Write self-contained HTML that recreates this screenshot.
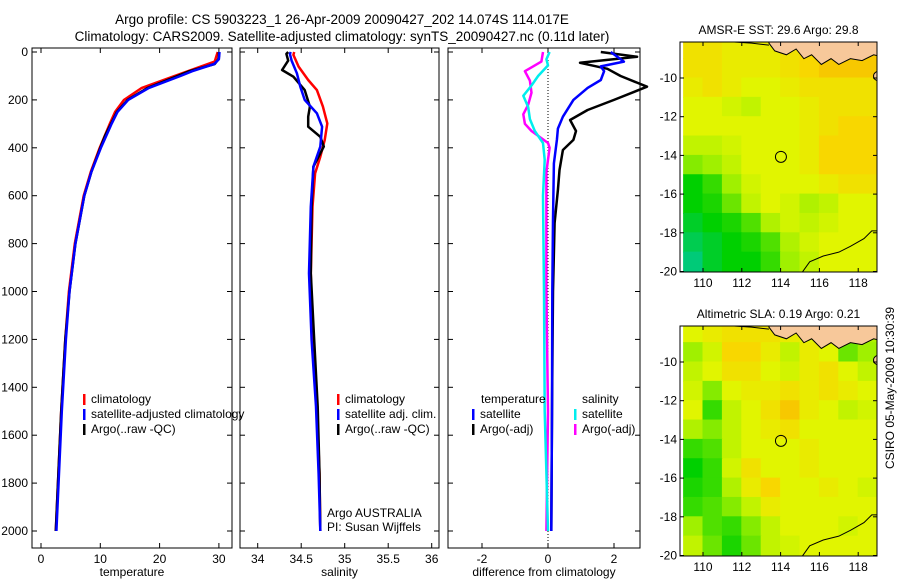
<!DOCTYPE html>
<html><head><meta charset="utf-8">
<style>
body{margin:0;background:#fff;}
svg{display:block;font-family:"Liberation Sans",sans-serif;}
</style></head>
<body>
<svg id="fig" width="900" height="580" viewBox="0 0 900 580" xmlns="http://www.w3.org/2000/svg">
<text x="342" y="24" font-size="13.5" text-anchor="middle">Argo profile: CS 5903223_1 26-Apr-2009 20090427_202 14.074S 114.017E</text>
<text x="342" y="41" font-size="13.5" text-anchor="middle">Climatology: CARS2009. Satellite-adjusted climatology: synTS_20090427.nc (0.11d later)</text>
<text transform="translate(894,469) rotate(-90)" font-size="12">CSIRO 05-May-2009 10:30:39</text>
<g id="p1"></g>
<g id="p2"></g>
<g id="p3"></g>
<g id="m1"></g>
<g id="m2"></g>
</svg>
<script>
// ---- data ----
const depthTicks=[0,200,400,600,800,1000,1200,1400,1600,1800,2000];
const tempTicks=[0,10,20,30];
const salTicks=[34,34.5,35,35.5,36];
const salTickLabels=["34","34.5","35","35.5","36"];
const diffTicks=[-2,0,2];
const climTDepth=[0,40,60,100,150,200,250,300,400,500,600,800,1000,1200,1500,2000];
const climTVal=[29.8,29.3,27,22.5,17,14,12.5,11.6,9.9,8.4,7.2,5.7,4.7,4.1,3.4,2.5];
const satTDepth=[0,30,50,80,100,150,200,250,300,400,500,600,800,1000,1200,1500,2000];
const satTVal=[30.1,30,29.2,25.5,23.5,18.2,14.7,12.9,11.9,10.1,8.5,7.3,5.8,4.8,4.2,3.5,2.6];
const argoTDepth=[0,20,30,50,80,100,150,200,250,300,350,400,500,600,800,1000,1200,1500,2000];
const argoTVal=[30,30,29.9,29.3,25,23,18,14.6,12.8,11.8,10.8,10,8.5,7.3,5.8,4.8,4.1,3.4,2.5];
const climSDepth=[0,12,61,117,159,228,298,368,437,507,646,924,1203,1481,1760,2000];
const climSVal=[34.42,34.41,34.47,34.58,34.68,34.75,34.80,34.77,34.72,34.66,34.63,34.61,34.63,34.68,34.71,34.72];
const satSDepth=[0,8,36,89,145,200,256,312,395,479,646,924,1203,1481,1760,2000];
const satSVal=[34.38,34.37,34.39,34.45,34.49,34.54,34.68,34.74,34.72,34.64,34.61,34.59,34.62,34.67,34.70,34.72];
const argoSDepth=[0,8,36,75,103,159,228,270,312,354,395,479,646,924,1203,1481,1760,2000];
const argoSVal=[34.35,34.33,34.35,34.28,34.41,34.54,34.60,34.58,34.58,34.72,34.76,34.64,34.62,34.61,34.65,34.69,34.71,34.72];
const dTsatDepth=[0,20,40,60,80,117,150,200,270,320,367,465,700,1000,1500,2000];
const dTsatVal=[1.9,2.1,2.3,1.6,1.7,1.6,1.2,0.77,0.45,0.3,0.27,0.18,0.15,0.13,0.12,0.1];
const dTargoDepth=[0,20,45,70,100,145,200,242,284,330,367,409,493,576,714,1000,1500,2000];
const dTargoVal=[1.6,2.7,0.97,1.8,2.2,3.0,2.0,1.2,0.67,0.85,0.77,0.45,0.35,0.3,0.2,0.15,0.12,0.1];
const dSsatDepth=[0,30,56,100,140,183,230,280,330,380,450,600,1000,1500,2000];
const dSsatVal=[0.05,-0.05,0.0,-0.3,-0.5,-0.75,-0.6,-0.55,-0.4,-0.15,-0.1,-0.15,-0.12,-0.1,0];
const dSargoDepth=[0,40,60,80,120,170,220,260,300,330,380,400,500,1000,1500,2000];
const dSargoVal=[-0.15,-0.2,-0.45,-0.7,-0.55,-0.5,-0.6,-0.75,-0.7,-0.5,0.0,0.05,-0.05,-0.05,0.0,-0.05];
const lonTicks=[110,112,114,116,118];
const latTicks=[-10,-12,-14,-16,-18,-20];
const sstGrid=[
[.8,.8,.75,.75,.75,.8,.85,.9,.9,.9],
[.8,.8,.75,.75,.75,.8,.85,.9,.9,.9],
[.75,.8,.75,.7,.7,.75,.8,.8,.8,.8],
[.7,.7,.65,.6,.7,.7,.75,.8,.8,.8],
[.7,.7,.7,.7,.7,.7,.75,.8,.85,.85],
[.6,.6,.65,.7,.7,.7,.75,.85,.85,.85],
[.45,.5,.6,.7,.7,.7,.75,.85,.85,.85],
[.2,.3,.5,.65,.7,.7,.7,.75,.8,.8],
[.2,.25,.4,.6,.7,.65,.55,.6,.7,.7],
[.15,.2,.25,.35,.55,.65,.6,.65,.7,.7],
[.1,.15,.2,.25,.35,.55,.65,.7,.7,.7],
[.05,.15,.2,.2,.3,.5,.6,.7,.7,.7]];
const slaGrid=[
[.7,.75,.8,.8,.8,.75,.7,.5,.45,.55],
[.5,.65,.85,.85,.75,.6,.75,.7,.4,.5],
[.6,.7,.8,.8,.7,.65,.75,.8,.7,.6],
[.65,.45,.7,.75,.75,.8,.75,.8,.75,.7],
[.7,.3,.6,.7,.8,.9,.75,.7,.6,.65],
[.55,.45,.6,.7,.75,.8,.7,.7,.7,.7],
[.3,.35,.6,.7,.7,.7,.75,.7,.7,.7],
[.2,.3,.65,.8,.7,.7,.75,.7,.7,.7],
[.25,.3,.55,.75,.85,.7,.7,.75,.7,.65],
[.3,.35,.45,.6,.75,.7,.7,.7,.7,.7],
[.5,.35,.3,.45,.6,.7,.7,.7,.65,.7],
[.6,.4,.25,.4,.6,.65,.7,.7,.7,.7]];

const NS="http://www.w3.org/2000/svg";
function mk(parent,tag,attrs,txt){const e=document.createElementNS(NS,tag);for(const k in attrs)e.setAttribute(k,attrs[k]);if(txt!==undefined)e.textContent=txt;parent.appendChild(e);return e;}
const yD=d=>52+d*0.2395;
function panel(g,x0,x1,xs,ticks,labels,xlabel,showY){
  const r=mk(g,'rect',{x:x0,y:48,width:x1-x0,height:500,fill:'none',stroke:'#000','stroke-width':1});
  
  
  ticks.forEach((t,i)=>{const x=xs(t);
    mk(g,'line',{x1:x,x2:x,y1:548,y2:543,stroke:'#000'});mk(g,'line',{x1:x,x2:x,y1:48,y2:53,stroke:'#000'});
    const tl=mk(g,'text',{x:x,y:563,'font-size':12,'text-anchor':'middle'},labels[i]);
    
    
  });
  depthTicks.forEach(d=>{const y=yD(d);
    mk(g,'line',{x1:x0,x2:x0+5,y1:y,y2:y,stroke:'#000'});mk(g,'line',{x1:x1,x2:x1-5,y1:y,y2:y,stroke:'#000'});
    if(showY){const tl=mk(g,'text',{x:x0-4,y:y+4,'font-size':12,'text-anchor':'end'},String(d));
      
      }
  });
  const xl=mk(g,'text',{x:(x0+x1)/2,y:576,'font-size':12,'text-anchor':'middle'},xlabel);
  
  
}
function line(g,xs,ds,vs,col,w,name){
  const p=ds.map((d,i)=>xs(vs[i]).toFixed(1)+','+yD(d).toFixed(1)).join(' ');
  const e=mk(g,'polyline',{points:p,fill:'none',stroke:col,'stroke-width':w,'stroke-linejoin':'round'});
  
  
}
function legend(g,x,y,items){
  items.forEach((it,i)=>{const yy=y+i*15;
    mk(g,'rect',{x:x,y:yy-9,width:2.5,height:11,fill:it[1]});
    const t=mk(g,'text',{x:x+8,y:yy,'font-size':12},it[0]);
    
    
  });
}
// panel 1
const p1=document.getElementById('p1');const xT=v=>41+v*5.93;
panel(p1,32,232,xT,tempTicks,tempTicks.map(String),'temperature',true);
line(p1,xT,climTDepth,climTVal,'#f00',2.5,'climatology-line');
line(p1,xT,argoTDepth,argoTVal,'#000',2.5,'argo-line');
line(p1,xT,satTDepth,satTVal,'#00f',2.5,'satellite-line');
legend(p1,83,403,[['climatology','#f00'],['satellite-adjusted climatology','#00f'],['Argo(..raw -QC)','#000']]);
// panel 2
const p2=document.getElementById('p2');const xS=v=>257.7+(v-34)*87;
panel(p2,240,439,xS,salTicks,salTickLabels,'salinity',false);
line(p2,xS,climSDepth,climSVal,'#f00',2.5,'climatology-line');
line(p2,xS,argoSDepth,argoSVal,'#000',2.5,'argo-line');
line(p2,xS,satSDepth,satSVal,'#00f',2.5,'satellite-line');
legend(p2,337,403,[['climatology','#f00'],['satellite adj. clim.','#00f'],['Argo(..raw -QC)','#000']]);
mk(p2,'text',{x:327,y:517,'font-size':12},'Argo AUSTRALIA');
mk(p2,'text',{x:327,y:531,'font-size':12},'PI: Susan Wijffels');
// panel 3
const p3=document.getElementById('p3');const xDf=v=>548+v*33;
panel(p3,448,640,xDf,diffTicks,diffTicks.map(String),'difference from climatology',false);
mk(p3,'line',{x1:548,x2:548,y1:48,y2:548,stroke:'#000','stroke-dasharray':'1,2'});
line(p3,xDf,dTargoDepth,dTargoVal,'#000',2.5,'temp-argo-diff');
line(p3,xDf,dTsatDepth,dTsatVal,'#00f',2.5,'temp-satellite-diff');
line(p3,xDf,dSargoDepth,dSargoVal,'#f0f',2.5,'sal-argo-diff');
line(p3,xDf,dSsatDepth,dSsatVal,'#0ee',2.5,'sal-satellite-diff');
mk(p3,'text',{x:481,y:403,'font-size':12},'temperature');
mk(p3,'text',{x:582,y:403,'font-size':12},'salinity');
legend(p3,472,418,[['satellite','#00f'],['Argo(-adj)','#000']]);
legend(p3,574,418,[['satellite','#0ee'],['Argo(-adj)','#f0f']]);
// maps
const stops=[[0,[0,200,160]],[0.2,[0,208,0]],[0.5,[160,240,0]],[0.7,[225,245,0]],[0.85,[248,215,0]],[1,[245,170,0]]];
function cmap(v){for(let i=1;i<stops.length;i++){if(v<=stops[i][0]){const a=stops[i-1],b=stops[i],t=(v-a[0])/(b[0]-a[0]);
  return 'rgb('+a[1].map((c,k)=>Math.round(c+(b[1][k]-c)*t)).join(',')+')';}}return 'rgb(245,170,0)';}
function map(g,top,title,grid){
  const L=680,R=877,B=top+230;
  const xL=lon=>703+(lon-110)*19.4, yL=lat=>top+36+(-10-lat)*19.35;
  const clip='c'+top;
  const cp=mk(g,'clipPath',{id:clip});mk(cp,'rect',{x:L,y:top,width:R-L,height:B-top});
  const cg=mk(g,'g',{'clip-path':'url(#'+clip+')'});
  grid.forEach((row,i)=>row.forEach((v,j)=>{
    mk(cg,'rect',{x:xL(109+j)-0.5,y:yL(-8-i)-0.5,width:20.4,height:20.4,fill:cmap(v)});
  }));
  // land
  const land=[[113.4,-8.2],[113.7,-8.6],[114.3,-8.8],[114.8,-8.5],[115.2,-9.0],[115.6,-8.8],[116.1,-9.3],[116.6,-9.0],[117.0,-9.3],[117.6,-9.0],[118.2,-9.1],[118.8,-8.8],[119.2,-8.9],[119.3,-7.5],[113.4,-7.5]];
  const lp=mk(cg,'polygon',{points:land.map(p=>xL(p[0])+','+yL(p[1])).join(' '),fill:'#f7c89a',stroke:'#000','stroke-width':1});
  
  
  mk(cg,'ellipse',{cx:xL(119.1),cy:yL(-9.9),rx:6,ry:5,fill:'#f7c89a',stroke:'#000'});
  mk(cg,'polyline',{points:[[108.9,-8.1],[111,-8.1],[112.5,-8.2],[113.4,-8.3]].map(p=>xL(p[0])+','+yL(p[1])).join(' '),fill:'none',stroke:'#000'});
  const coast=[[115,-20.2],[115.5,-19.5],[116.2,-19.2],[117,-19],[117.6,-18.7],[118.3,-18.3],[118.7,-17.9],[119.2,-17.9]];
  mk(cg,'polyline',{points:coast.map(p=>xL(p[0])+','+yL(p[1])).join(' '),fill:'none',stroke:'#000','stroke-width':1});
  mk(g,'rect',{x:L,y:top,width:R-L,height:B-top,fill:'none',stroke:'#000'});
  const c=mk(g,'circle',{cx:xL(114.017),cy:yL(-14.074),r:5.5,fill:'none',stroke:'#000','stroke-width':1});
  
  
  lonTicks.forEach(t=>{const x=xL(t);mk(g,'line',{x1:x,x2:x,y1:B,y2:B-4,stroke:'#000'});mk(g,'line',{x1:x,x2:x,y1:top,y2:top+4,stroke:'#000'});
    mk(g,'text',{x:x,y:B+15,'font-size':12,'text-anchor':'middle'},String(t));});
  latTicks.forEach(t=>{const y=yL(t);mk(g,'line',{x1:L,x2:L+4,y1:y,y2:y,stroke:'#000'});mk(g,'line',{x1:R,x2:R-4,y1:y,y2:y,stroke:'#000'});
    mk(g,'text',{x:L-3,y:y+4,'font-size':12,'text-anchor':'end'},String(t));});
  const tt=mk(g,'text',{x:(L+R)/2,y:top-8,'font-size':12,'text-anchor':'middle'},title);
  
  
}
map(document.getElementById('m1'),42,'AMSR-E SST: 29.6 Argo: 29.8',sstGrid);
map(document.getElementById('m2'),326,'Altimetric SLA: 0.19 Argo: 0.21',slaGrid);
</script>
</body></html>
